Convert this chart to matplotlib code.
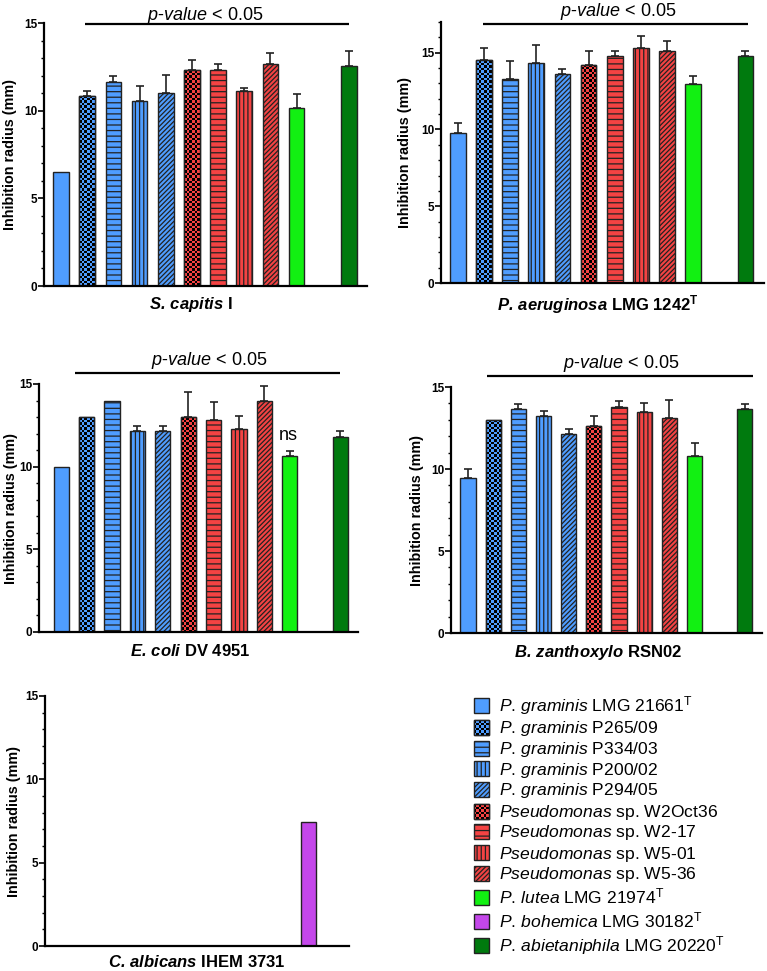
#!/usr/bin/env python3
"""plot.py - inhibition radius of Pseudomonas strains against five test organisms."""

import numpy as np
import matplotlib
matplotlib.use("Agg")
import matplotlib.pyplot as plt
from matplotlib.colors import ListedColormap
from matplotlib.patches import Rectangle
from matplotlib.ticker import MultipleLocator

plt.rcParams["font.family"] = "Liberation Sans"
plt.rcParams["mathtext.fontset"] = "custom"
plt.rcParams["mathtext.rm"] = "Liberation Sans"
plt.rcParams["mathtext.it"] = "Liberation Sans:italic"
plt.rcParams["mathtext.bf"] = "Liberation Sans:bold"
plt.rcParams["mathtext.bfit"] = "Liberation Sans:italic:bold"
plt.rcParams["hatch.linewidth"] = 0.9

nan = np.nan

# ── data ────────────────────────────────────────────────────────────────────
STRAINS = [
    r"$\mathit{P.\,graminis}$ LMG 21661$^\mathrm{T}$",
    r"$\mathit{P.\,graminis}$ P265/09",
    r"$\mathit{P.\,graminis}$ P334/03",
    r"$\mathit{P.\,graminis}$ P200/02",
    r"$\mathit{P.\,graminis}$ P294/05",
    r"$\mathit{Pseudomonas}$ sp. W2Oct36",
    r"$\mathit{Pseudomonas}$ sp. W2-17",
    r"$\mathit{Pseudomonas}$ sp. W5-01",
    r"$\mathit{Pseudomonas}$ sp. W5-36",
    r"$\mathit{P.\,lutea}$ LMG 21974$^\mathrm{T}$",
    r"$\mathit{P.\,bohemica}$ LMG 30182$^\mathrm{T}$",
    r"$\mathit{P.\,abietaniphila}$ LMG 20220$^\mathrm{T}$",
]

S_CAPITIS    = [6.5, 10.85, 11.65, 10.55, 11.0, 12.3, 12.3, 11.12, 12.65, 10.13, nan, 12.55]
S_CAPITIS_SD = [0, 0.30, 0.31, 0.85, 1.02, 0.61, 0.35, 0.16, 0.63, 0.80, 0, 0.84]

P_AERUG      = [9.8, 14.52, 13.27, 14.31, 13.64, 14.22, 14.81, 15.28, 15.13, 12.94, nan, 14.78]
P_AERUG_SD   = [0.61, 0.76, 1.21, 1.17, 0.32, 0.91, 0.30, 0.80, 0.61, 0.54, 0, 0.33]

E_COLI       = [10.0, 13.0, 14.0, 12.15, 12.15, 13.0, 12.82, 12.3, 14.0, 10.65, nan, 11.8]
E_COLI_SD    = [0, 0, 0, 0.32, 0.32, 1.52, 1.07, 0.78, 0.88, 0.32, 0, 0.33]

B_ZANTH      = [9.46, 13.0, 13.64, 13.21, 12.14, 12.64, 13.8, 13.46, 13.13, 10.8, nan, 13.64]
B_ZANTH_SD   = [0.54, 0, 0.32, 0.31, 0.32, 0.59, 0.32, 0.54, 1.08, 0.77, 0, 0.32]

C_ALB        = [nan, nan, nan, nan, nan, nan, nan, nan, nan, nan, 7.45, nan]
C_ALB_SD     = [0] * 12

# ── styles ──────────────────────────────────────────────────────────────────
BLUE, RED = "#4F9DFF", "#F44343"
LIME, PURPLE, DKGREEN = "#12F012", "#C447EA", "#007A0E"
EDGE = "#222222"
FACES = [BLUE] * 5 + [RED] * 4 + [LIME, PURPLE, DKGREEN]
PATTERNS = ["", "checker", "---", "||||", "///////",
            "checker", "---", "||||", "///////", "", "", ""]

W, H = 767, 971


def fig_box(x0, y0, x1, y1):
    return [x0 / W, 1 - y1 / H, (x1 - x0) / W, (y1 - y0) / H]


def checker(ax, x0, x1, y0, y1, face, clip, cell=2.5):
    (px0, py0), (px1, py1) = ax.transData.transform([(x0, y0), (x1, y1)])
    nc = max(1, round(abs(px1 - px0) / cell))
    nr = max(1, round(abs(py1 - py0) / cell))
    grid = np.indices((nr, nc)).sum(axis=0) % 2
    im = ax.imshow(grid, cmap=ListedColormap([face, "black"]), vmin=0, vmax=1,
                   extent=(x0, x1, y0, y1), interpolation="nearest",
                   aspect="auto", origin="lower", zorder=2.2)
    im.set_clip_path(clip)


def panel(fig, box, vals, sds, xlim, ylim, title, title_xy, ylab_x,
          pline=None, ptext=None, ns=None):
    ax = fig.add_axes(fig_box(*box))
    ax.set_xlim(*xlim)
    ax.set_ylim(*ylim)
    xs = np.arange(1, 13)
    for x, v, sd, face, pat in zip(xs, vals, sds, FACES, PATTERNS):
        if np.isnan(v):
            continue
        hatch = pat if pat != "checker" else None
        bar = ax.bar(x, v, width=0.6, color=face, edgecolor=EDGE,
                     linewidth=1.0, hatch=hatch, zorder=2)[0]
        if pat == "checker":
            checker(ax, x - 0.3, x + 0.3, 0, v, face, bar)
            ax.add_patch(Rectangle((x - 0.3, 0), 0.6, v, fill=False,
                                   edgecolor=EDGE, linewidth=1.0, zorder=2.5))
        if sd > 0:
            ax.errorbar(x, v, yerr=[[0], [sd]], fmt="none", ecolor=EDGE,
                        elinewidth=1.2, capsize=3, capthick=1.2, zorder=1.8)

    for side in ("top", "right"):
        ax.spines[side].set_visible(False)
    for side in ("left", "bottom"):
        ax.spines[side].set_linewidth(1.6)
    ax.set_xticks([])
    ax.set_yticks([0, 5, 10, 15])
    ax.yaxis.set_minor_locator(MultipleLocator(1))
    ax.tick_params(axis="y", which="major", length=4, width=1.2,
                   labelsize=8.5, pad=1)
    ax.tick_params(axis="y", which="minor", length=2.5, width=1.0)
    for lbl in ax.get_yticklabels():
        lbl.set_fontweight("bold")

    fig.text(ylab_x / W, 1 - (box[1] + box[3]) / 2 / H, "Inhibition radius (mm)",
             rotation=90, ha="center", va="center", fontsize=10.4,
             fontweight="bold")
    fig.text(title_xy[0] / W, 1 - title_xy[1] / H, title, ha="center",
             va="center", fontsize=12, fontweight="bold")

    if pline is not None:
        xa, xb, y = pline
        ax.plot([xa, xb], [y, y], color="black", linewidth=1.6,
                solid_capstyle="butt", clip_on=False)
        tx, ty = ptext
        ax.text(tx, ty, r"$\mathit{p}$-$\mathit{value}$ < 0.05", ha="center",
                va="center", fontsize=13, clip_on=False)
    if ns is not None:
        ax.text(ns[0], ns[1], "ns", ha="center", va="bottom", fontsize=13)
    return ax


fig = plt.figure(figsize=(W / 100, H / 100), dpi=100)

panel(fig, (44, 23, 367, 286), S_CAPITIS, S_CAPITIS_SD, (0.35, 12.69), (0, 15),
      r"$\mathbfit{S.\,capitis}$ I", (191, 304), 10,
      pline=(1.92, 12.0, 14.95), ptext=(6.5, 15.4))

panel(fig, (441, 22, 764, 283), P_AERUG, P_AERUG_SD, (0.36, 12.71), (0, 17),
      r"$\mathbfit{P.\,aeruginosa}$ LMG 1242$^\mathbf{T}$", (598, 305), 405,
      pline=(1.97, 12.1, 16.9), ptext=(7.13, 17.7))

panel(fig, (39, 384, 358, 632), E_COLI, E_COLI_SD, (0.125, 12.69), (0, 15),
      r"$\mathbfit{E.\,coli}$ DV 4951", (190, 651), 11,
      pline=(1.55, 11.98, 15.67), ptext=(6.82, 16.45), ns=(9.93, 11.4))

panel(fig, (451, 387, 762, 633), B_ZANTH, B_ZANTH_SD, (0.325, 12.68), (0, 15),
      r"$\mathbfit{B.\,zanthoxylo}$ RSN02", (598, 652), 417,
      pline=(1.76, 12.32, 15.67), ptext=(7.08, 16.46))

panel(fig, (45, 696, 349, 946), C_ALB, C_ALB_SD, (0.69, 12.6), (0, 15),
      r"$\mathbfit{C.\,albicans}$ IHEM 3731", (197, 962), 14)

# ── legend ──────────────────────────────────────────────────────────────────
lax = fig.add_axes([0, 0, 1, 1])
lax.axis("off")
lax.set_xlim(0, W)
lax.set_ylim(H, 0)
ROW_Y = [706, 727.5, 748.5, 769, 790, 811.5, 832, 853, 874, 898, 922, 946]
for label, face, pat, cy in zip(STRAINS, FACES, PATTERNS, ROW_Y):
    hatch = pat if pat != "checker" else None
    sq = Rectangle((474, cy - 7.5), 15, 15, facecolor=face, edgecolor=EDGE,
                   linewidth=1.0, hatch=hatch, zorder=2)
    lax.add_patch(sq)
    if pat == "checker":
        checker(lax, 474, 489, cy + 7.5, cy - 7.5, face, sq)
        lax.add_patch(Rectangle((474, cy - 7.5), 15, 15, fill=False,
                                edgecolor=EDGE, linewidth=1.0, zorder=2.5))
    lax.text(499, cy + 5.5, label, fontsize=12.6, va="baseline", ha="left")
lax.set_xlim(0, W)
lax.set_ylim(H, 0)

fig.savefig("out.png", dpi=100)
